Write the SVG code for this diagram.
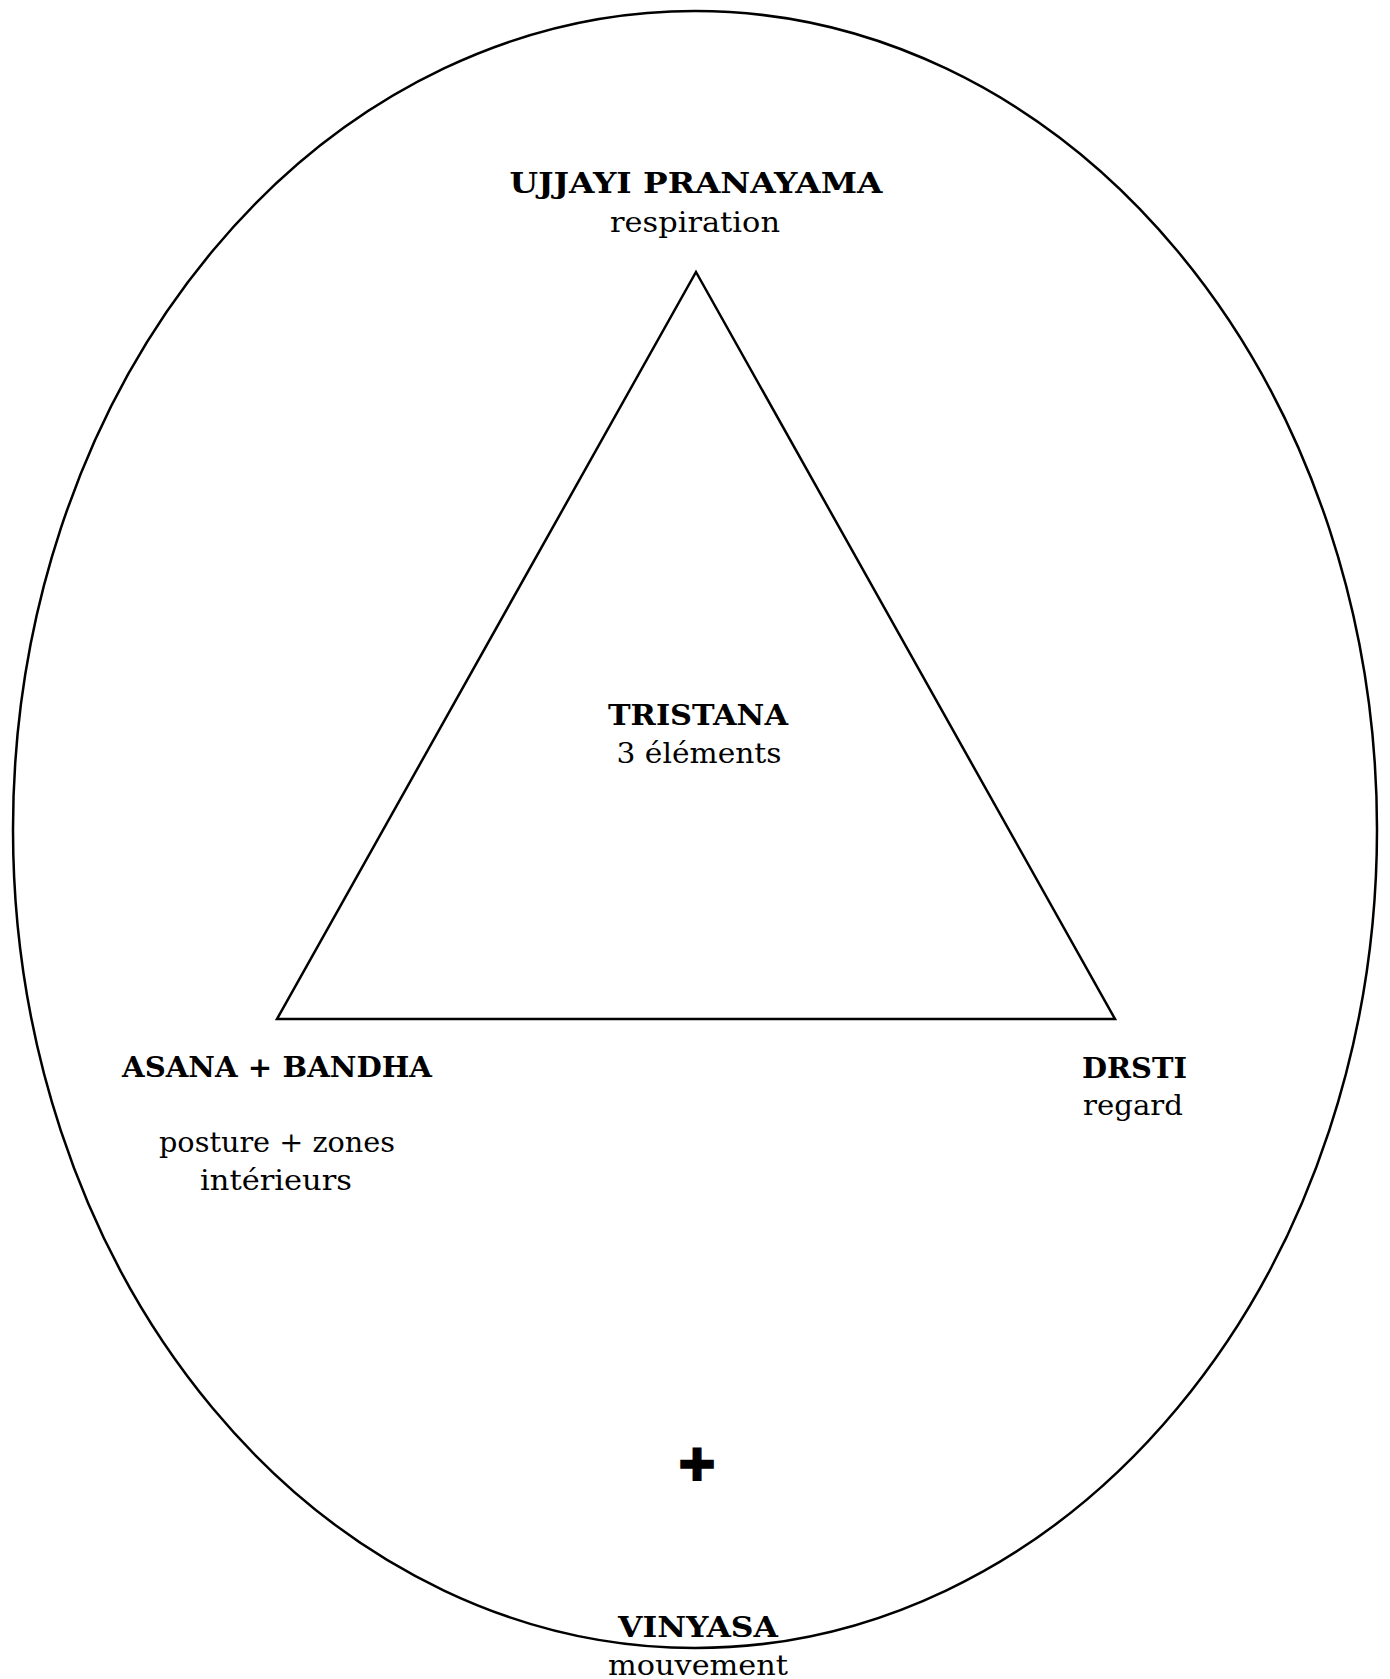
<svg xmlns="http://www.w3.org/2000/svg" width="1390" height="1679" viewBox="0 0 1390 1679">
<style>
.shape{fill:none;stroke:#000;stroke-width:2.5}
.t{font-family:"DejaVu Serif","Liberation Serif",serif;font-size:27px;fill:#000;text-anchor:middle}
.b{font-weight:bold}
.sym{font-family:"DejaVu Sans",sans-serif;font-size:46px;fill:#000;text-anchor:middle}
</style>
<rect width="1390" height="1679" fill="#fff"/>
<g id="connectors">
<ellipse id="outer" class="shape" cx="695" cy="829.5" rx="682" ry="818.5"/>
<polygon id="triangle" class="shape" points="696,272 1115,1019 277,1019" stroke-linejoin="miter"/>
</g>
<g id="ujjayi">
<text class="t b" x="696" y="193" textLength="373" lengthAdjust="spacingAndGlyphs">UJJAYI PRANAYAMA</text>
<text class="t" x="695" y="232" textLength="170" lengthAdjust="spacingAndGlyphs">respiration</text>
</g>
<g id="tristana">
<text class="t b" x="698" y="725" textLength="180" lengthAdjust="spacingAndGlyphs">TRISTANA</text>
<text class="t" x="699" y="763" textLength="165" lengthAdjust="spacingAndGlyphs">3 éléments</text>
</g>
<g id="asana">
<text class="t b" x="277" y="1077" textLength="310" lengthAdjust="spacingAndGlyphs">ASANA + BANDHA</text>
<text class="t" x="277" y="1152" textLength="236" lengthAdjust="spacingAndGlyphs">posture + zones</text>
<text class="t" x="276" y="1190" textLength="152" lengthAdjust="spacingAndGlyphs">intérieurs</text>
</g>
<g id="drsti">
<text class="t b" x="1134.5" y="1078" textLength="105" lengthAdjust="spacingAndGlyphs">DRSTI</text>
<text class="t" x="1133" y="1115" textLength="100" lengthAdjust="spacingAndGlyphs">regard</text>
</g>
<g id="plus">
<text class="sym" x="697" y="1481">✚</text>
</g>
<g id="vinyasa">
<text class="t b" x="698" y="1637" textLength="160" lengthAdjust="spacingAndGlyphs">VINYASA</text>
<text class="t" x="698" y="1675" textLength="180" lengthAdjust="spacingAndGlyphs">mouvement</text>
</g>
</svg>
